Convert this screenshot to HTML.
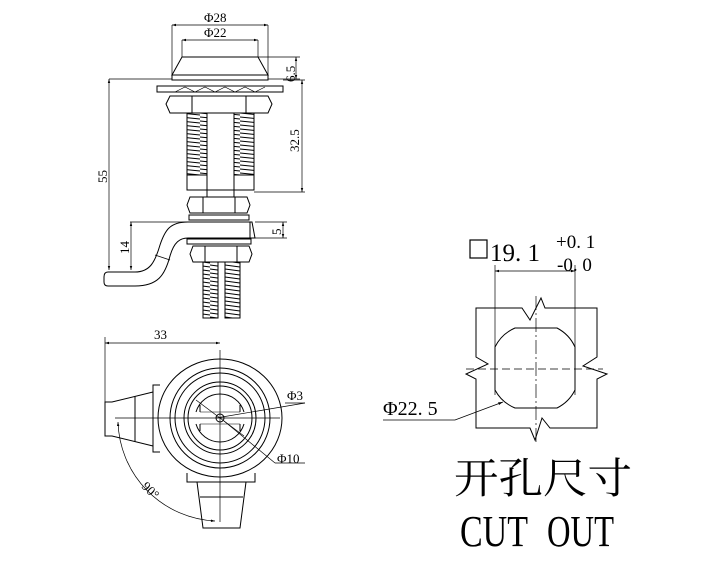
<!DOCTYPE html>
<html><head><meta charset="utf-8"><style>
html,body{margin:0;padding:0;background:#fff}
svg{display:block}
text{font-family:"Liberation Serif","Noto Serif CJK SC",serif;fill:#000}
</style></head><body>
<svg width="707" height="568" viewBox="0 0 707 568" xmlns="http://www.w3.org/2000/svg">
<defs>
<marker id="a" viewBox="0 0 10 10" refX="10" refY="5" markerWidth="6" markerHeight="6" orient="auto-start-reverse"><path d="M0,2 L10,5 L0,8z" fill="#000"/></marker>
<pattern id="th" width="20" height="4" patternUnits="userSpaceOnUse"><path d="M0,1 L20,3" fill="none" stroke="#000" stroke-width="0.9"/></pattern>
<pattern id="th2" width="15" height="4" patternUnits="userSpaceOnUse"><path d="M0,1 L15,3" fill="none" stroke="#000" stroke-width="0.9"/></pattern>
</defs>
<g fill="none" stroke="#000" stroke-width="1">
<line x1="172" y1="25" x2="172" y2="80" stroke-width="0.7"/>
<line x1="268" y1="25" x2="268" y2="80" stroke-width="0.7"/>
<line x1="172" y1="25" x2="268" y2="25" marker-start="url(#a)" marker-end="url(#a)" stroke-width="0.7"/>
<line x1="182" y1="40" x2="182" y2="57" stroke-width="0.7"/>
<line x1="258" y1="40" x2="258" y2="57" stroke-width="0.7"/>
<line x1="182" y1="40" x2="258" y2="40" marker-start="url(#a)" marker-end="url(#a)" stroke-width="0.7"/>
<path d="M182,57 L258,57 L268,75 L172,75 Z" fill="#fff"/>
<rect x="172" y="75" width="96" height="5"/>
<line x1="258" y1="57" x2="300" y2="57" stroke-width="0.7"/>
<line x1="268" y1="79" x2="300" y2="79" stroke-width="0.7"/>
<line x1="296" y1="57" x2="296" y2="79" marker-start="url(#a)" marker-end="url(#a)" stroke-width="0.7"/>
<line x1="109" y1="79" x2="172" y2="79" stroke-width="0.7"/>
<line x1="109" y1="79" x2="109" y2="270" marker-start="url(#a)" marker-end="url(#a)" stroke-width="0.7"/>
<rect x="157" y="86" width="126" height="6"/>
<path d="M175,92 l10,-5 l10,5 l10,-5 l10,5 l10,-5 l10,5 l10,-5 l10,5 l10,-5" stroke-width="0.6"/>
<path d="M166,104 L170,96 L268,96 L272,104 L268,113 L170,113 Z"/>
<line x1="192" y1="96" x2="192" y2="113"/><line x1="246" y1="96" x2="246" y2="113"/>
<rect x="187" y="113" width="20" height="62" fill="url(#th)"/>
<rect x="234" y="113" width="20" height="62" fill="url(#th)"/>
<rect x="187" y="175" width="20" height="15"/>
<rect x="234" y="175" width="20" height="15"/>
<line x1="207" y1="190" x2="234" y2="190"/>
<line x1="254" y1="192" x2="305" y2="192" stroke-width="0.7"/>
<line x1="283" y1="80" x2="305" y2="80" stroke-width="0.7"/>
<line x1="302" y1="80" x2="302" y2="192" marker-start="url(#a)" marker-end="url(#a)" stroke-width="0.7"/>
<rect x="207" y="190" width="27" height="7"/>
<path d="M187,205 L190,197 L247,197 L250,205 L247,213 L190,213 Z"/>
<line x1="203" y1="197" x2="203" y2="213"/><line x1="235" y1="197" x2="235" y2="213"/>
<rect x="189" y="215" width="60" height="5"/>
<path d="M252,222 L188,222 C170,222 165,230 160,245 C155,262 150,272 135,272 L108,272 Q104,272 104,277 L104,282 Q104,286 108,286 L135,286 C158,286 165,275 170,256 C174,242 180,238 188,238 L255,238 Z" fill="#fff"/>
<line x1="155" y1="255" x2="170" y2="260" stroke-width="0.7"/>
<line x1="250" y1="222" x2="250" y2="238"/>
<rect x="187" y="239" width="64" height="5"/>
<line x1="255" y1="222" x2="287" y2="222" stroke-width="0.7"/>
<line x1="255" y1="238" x2="287" y2="238" stroke-width="0.7"/>
<line x1="283" y1="222" x2="283" y2="238" marker-start="url(#a)" marker-end="url(#a)" stroke-width="0.7"/>
<line x1="130" y1="222" x2="188" y2="222" stroke-width="0.7"/>
<line x1="131" y1="222" x2="131" y2="270" marker-start="url(#a)" marker-end="url(#a)" stroke-width="0.7"/>
<path d="M190,254 L193,246 L249,246 L252,254 L249,262 L193,262 Z"/>
<line x1="205" y1="246" x2="205" y2="262"/><line x1="237" y1="246" x2="237" y2="262"/>
<rect x="203" y="262" width="15" height="56" fill="url(#th2)"/>
<rect x="225" y="262" width="15" height="56" fill="url(#th2)"/>
<line x1="105" y1="337" x2="105" y2="405" stroke-width="0.7"/>
<line x1="105" y1="343" x2="220" y2="343" marker-start="url(#a)" marker-end="url(#a)" stroke-width="0.7"/>
<path d="M160,385 L153,385 L153,452 L160,452" />
<path d="M153,392 L112,402 L105,402 L105,436 L112,436 L153,446"/>
<line x1="135" y1="396" x2="135" y2="442"/>
<path d="M187,473 L187,482 L255,482 L255,473"/>
<path d="M197,482 L203,528 L240,528 L246,482"/>
<line x1="200" y1="497" x2="243" y2="497"/>
<ellipse cx="220" cy="418" rx="62" ry="59" fill="#fff"/>
<circle cx="220" cy="418" r="50"/>
<circle cx="220" cy="418" r="45"/>
<circle cx="220" cy="418" r="36"/>
<circle cx="220" cy="418" r="32"/>
<path d="M200,405 L200,412 M240,405 L240,412 M200,424 L200,431 M240,424 L240,431"/>
<path d="M196,412 A25,25 0 0 1 244,412 M244,424 A25,25 0 0 1 196,424"/>
<path d="M200,412 L240,412 M200,424 L240,424" stroke-width="0.6"/>
<circle cx="220" cy="418" r="4"/>
<line x1="115" y1="418" x2="280" y2="418" stroke-width="0.7"/>
<line x1="220" y1="350" x2="220" y2="522" stroke-width="0.7"/>
<line x1="196" y1="400" x2="244" y2="436" stroke-width="0.7"/>
<line x1="216" y1="418" x2="305" y2="403" stroke-width="0.7"/>
<line x1="285" y1="403" x2="305" y2="403" stroke-width="0.7"/>
<line x1="224" y1="421" x2="275" y2="463" stroke-width="0.7"/>
<line x1="275" y1="463" x2="305" y2="463" stroke-width="0.7"/>
<path d="M118,422 A102,102 0 0 0 215,521" marker-start="url(#a)" marker-end="url(#a)" stroke-width="0.7"/>
<line x1="495" y1="265" x2="495" y2="395" stroke-width="0.7"/>
<line x1="575" y1="265" x2="575" y2="395" stroke-width="0.7"/>
<line x1="495" y1="271" x2="575" y2="271" marker-start="url(#a)" marker-end="url(#a)" stroke-width="0.7"/>
<path d="M476,308 L522,308 L530,320 L541,298 L545,308 L597,308 L597,357 L583,366 L607,374 L597,379 L597,428 L550,428 L542,418 L535,440 L530,428 L476,428 L476,379 L466,374 L488,364 L476,357 Z"/>
<path d="M515,328 L557,328 A40,40 0 0 1 575,347 L575,390 A40,40 0 0 1 557,408 L515,408 A40,40 0 0 1 495,390 L495,347 A40,40 0 0 1 515,328 Z"/>
<line x1="466" y1="369" x2="603" y2="369" stroke-width="0.7" stroke-dasharray="8,4"/>
<line x1="536" y1="296" x2="536" y2="442" stroke-width="0.7" stroke-dasharray="14,3,2,3"/>
<path d="M383,420 L455,420 L503,402" marker-end="url(#a)" stroke-width="0.8"/>
<rect x="470" y="240" width="17" height="18" stroke-width="1.2"/>
</g>
<g font-size="13">
<text x="204" y="22">Φ28</text>
<text x="204" y="37">Φ22</text>
<text transform="translate(295,82) rotate(-90)">6.5</text>
<text transform="translate(299,152) rotate(-90)">32.5</text>
<text transform="translate(107,183) rotate(-90)">55</text>
<text transform="translate(129,254) rotate(-90)">14</text>
<text transform="translate(281,235) rotate(-90)">5</text>
<text x="154" y="339">33</text>
<text x="287" y="400">Φ3</text>
<text x="277" y="463">Φ10</text>
<text transform="translate(141,487) rotate(45)">90°</text>
</g>
<text x="490" y="261" font-size="25">19. 1</text>
<text x="556" y="248" font-size="19">+0. 1</text>
<text x="557" y="271" font-size="19">-0. 0</text>
<text x="383" y="415" font-size="20">Φ22. 5</text>
<text x="454" y="493" font-size="42" textLength="178" lengthAdjust="spacingAndGlyphs">开孔尺寸</text>
<text x="460" y="546" font-size="44" textLength="68" lengthAdjust="spacingAndGlyphs">CUT</text>
<text x="547" y="546" font-size="44" textLength="67" lengthAdjust="spacingAndGlyphs">OUT</text>
</svg>
</body></html>
